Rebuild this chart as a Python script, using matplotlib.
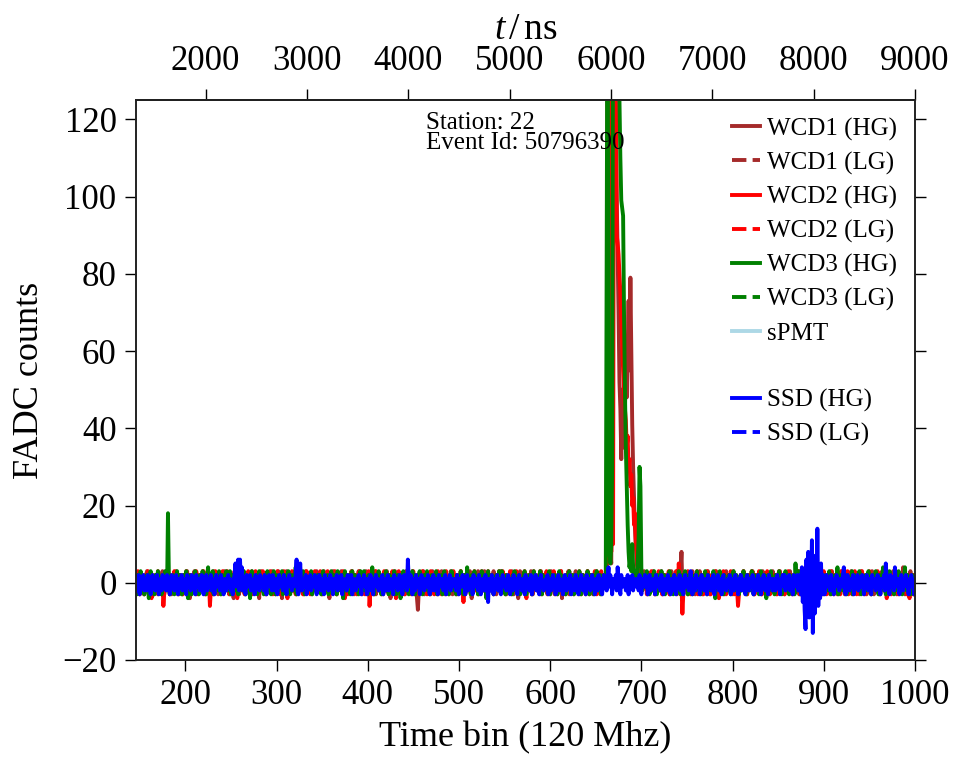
import numpy as np
import matplotlib
matplotlib.use("Agg")
import matplotlib.pyplot as plt
from matplotlib.lines import Line2D

plt.rcParams['font.family'] = ['Liberation Serif', 'DejaVu Serif']
plt.rcParams['mathtext.fontset'] = 'custom'
plt.rcParams['mathtext.rm'] = 'Liberation Serif'
plt.rcParams['mathtext.it'] = 'Liberation Serif:italic'

# first time bin shown and conversion of the top axis
first_bin = 146
ns_per_bin = 9

station = 22
event_id = 50796390

# baseline traces, one value per time bin, starting at first_bin (50 bins per row)
wcd1_hg_noise = """
1 -2 0 2 -3 -1 2 1 -2 -3  0 2 3 -1 -2 1 0 -3 2 1  -1 0 2 -2 -3 1 2 0 -1 3  -2 -3 1 0 2 -1 -2 2 1 -3  0 1 -2 2 3 -1 0 -3 1 2
-1 -3 0 2 1 -2 3 0 -1 -4  2 1 -2 0 3 -1 -3 1 2 0  -2 1 -1 3 0 -2 -3 2 1 -1  0 2 -3 -1 1 3 -2 0 2 -1  -3 1 0 -2 2 1 -1 3 -2 0
2 -1 -3 0 1 2 -2 -4 1 3  0 -1 2 -3 1 0 -2 2 3 -1  -3 0 1 -2 2 -1 0 3 -3 1  2 -2 -1 0 1 -4 2 3 -1 0  -2 1 2 -3 0 1 -1 2 -2 3
-1 0 2 -3 1 -2 3 0 -1 2  -4 1 0 -2 2 3 -1 -3 1 0  2 -1 -2 1 3 0 -3 2 -1 1  0 -2 2 -1 -3 1 3 0 -2 1  2 -1 0 -3 2 1 -2 0 3 -1
0 2 -2 1 -3 0 3 -1 2 -2  1 0 -4 2 1 -1 3 -2 0 1  -3 2 0 -1 1 3 -2 -1 2 0  -3 1 2 -1 0 -2 3 1 -1 -3  2 0 1 -2 3 -1 0 2 -3 1
-2 1 3 0 -1 2 -3 1 0 -2  2 -1 3 -3 0 1 -2 2 1 -1  0 -3 2 1 -2 3 0 -1 1 -4  2 0 -2 1 3 -1 -3 0 2 1  -1 2 -2 0 1 -3 3 -1 0 2
1 -2 0 3 -1 -3 2 0 -4 -7  -2 1 2 -1 0 3 -3 1 -2 2  0 -1 1 -3 2 3 -2 0 1 -1  2 -3 0 1 -2 3 -1 2 0 -3  1 2 -1 0 -2 3 1 -3 2 0
-1 2 1 -3 0 -2 3 1 -1 2  0 -3 1 2 -2 0 3 -1 -4 1  2 0 -2 1 -1 3 -3 0 2 1  -2 -1 3 0 1 -3 2 -1 0 2  -2 1 3 -1 0 -3 2 1 -2 0
3 -1 0 -2 2 1 -3 0 1 -1  2 -2 3 0 -3 1 -1 2 0 -4  1 3 -2 0 -1 2 1 -3 0 2  -1 1 -2 3 0 -3 2 1 -1 0  -2 2 1 -3 3 0 -1 2 -2 1
0 -3 2 1 -1 3 -2 0 1 -3  2 0 -1 2 -2 1 3 -4 0 1  -2 2 -1 0 3 -3 1 2 -1 0  -2 1 3 -1 0 2 -3 1 -2 0  2 -1 1 -3 0 3 -2 1 0 -1
2 -3 1 0 -2 3 -1 2 0 -3  1 2 -1 0 2 1 -2 0 3 -1  0 2 -3 1 -1 2 0 -2 3 1  -1 0 2 -3 1 0 -2 2 1 -1  3 0 -2 1 -3 2 0 -1 1 2
-2 0 1 -3 2 -1 0 3 -2 1  0 -3 2 1 -1 0 -2 3 1 -3  0 2 -1 1 -2 0 3 -3 1 2  -1 0 -2 2 1 -3 0 3 -1 2  -2 0 1 -3 2 -1 1 3 8 -2
-3 1 2 0 -1 -3 2 1 -2 0  3 -1 1 -3 0 2 -2 1 3 -1  0 -3 2 -1 1 0 -2 3 0 -3  1 2 -1 0 -2 1 3 -3 0 2  -1 1 -2 0 2 -3 1 3 -1 0
2 -2 0 1 -3 3 -1 0 2 -2  1 -3 0 2 1 -1 3 -2 0 1  -3 2 0 -1 1 -2 3 0 -3 1  2 -1 0 2 -2 1 -3 3 0 -1  1 2 -2 0 -3 1 2 -1 3 0
-1 2 -3 0 1 -2 3 1 -1 0  2 -3 1 0 -2 2 -1 3 0 -3  1 2 -1 0 -2 1 3 -3 0 2  -1 1 -2 0 4 -3 1 2 -1 0  -2 3 1 -3 0 2 -1 1 -2 0
3 -1 0 -3 2 1 -2 0 1 -1  2 -3 0 3 -2 1 0 -1 2 -3  1 0 -2 2 3 -1 0 -3 1 2  -2 0 1 -1 3 -3 2 0 -1 1  -2 2 0 -3 1 3 -1 0 2 -2
1 -3 0 2 -1 1 -2 3 0 -3  2 1 -1 0 -2 2 -3 1 3 0  -1 2 -2 0 1 -3 2 1 -1 0  3 -2 0 1 -3 2 -1 0 2 -2  1 4 -1 -3 0 2 1 -2 0 3
-1 0 2 -3 1 -2 0 2 -1 1
"""

wcd2_hg_noise = """
-2 1 3 0 -3 2 -1 0 1 -3  2 0 -2 3 1 -1 0 -4 2 1  -3 0 2 -1 3 -2 1 0 -3 2  -6 -2 1 3 0 -1 2 -3 1 0  2 -2 3 -1 0 1 -3 2 0 -1
1 -3 2 0 -1 3 -2 1 0 2  -3 1 -1 2 0 -2 3 1 -3 0  2 -1 1 -2 3 0 -3 2 1 -1  0 -6 -2 2 1 -3 0 3 -1 2  -2 0 1 -3 2 3 -1 0 -2 1
3 -1 0 -3 2 1 -2 0 3 -1  1 -4 2 0 -2 1 3 -1 0 -3  2 1 -2 3 0 -1 -3 2 1 0  -2 3 -1 1 -3 0 2 -2 1 3  0 -1 -3 2 1 0 -2 3 -1 0
-3 2 1 -1 0 3 -2 1 -3 0  2 -1 3 0 -2 1 -4 2 0 1  -1 3 -2 0 1 -3 2 -1 0 3  1 -2 0 -3 2 1 -1 3 0 -2  1 -3 2 0 -1 1 3 -2 0 2
0 -2 3 1 -3 0 2 -1 1 -2  3 0 -3 2 -1 1 0 -2 3 -1  -3 1 2 0 -2 1 -1 3 0 -4  2 1 -3 0 2 -1 -2 3 1 0  -1 2 -3 0 1 3 -2 -1 2 0
1 -3 2 0 -1 3 -6 -2 1 2  0 -3 1 3 -1 0 2 -2 1 -3  0 2 3 -1 -2 1 0 -3 2 1  -1 3 0 -2 1 -4 2 0 3 -1  -2 1 0 2 -3 1 -1 3 0 -2
2 0 -3 1 3 -1 -2 0 2 1  -3 -1 2 0 3 -2 1 -1 0 -3  2 1 -2 3 0 -1 1 -3 2 0  -2 3 1 -1 0 -3 2 1 -2 0  3 -1 1 -3 0 2 -2 1 3 -1
0 -3 2 1 -2 0 3 -1 1 -5  2 0 -2 3 1 -1 0 -3 2 1  -1 3 0 -2 1 -3 2 0 -1 3  1 -2 0 2 -3 1 3 -1 0 -2  2 1 -3 0 -1 2 1 -2 3 0
-2 1 3 -1 0 -3 2 1 -2 0  3 -1 -3 2 0 1 -2 3 -1 0  2 -3 1 0 -2 2 3 -1 -4 1  0 2 -2 1 -3 0 3 -1 2 0  -2 1 -1 3 0 -3 2 1 -1 0
3 -2 0 1 -3 2 -1 0 3 1  -2 0 -3 2 1 -1 3 0 -2 1  -1 -3 2 0 1 3 -2 -1 0 2  -3 1 2 -1 0 -2 3 1 -3 0  2 -1 1 0 -2 3 -1 -3 2 1
0 -2 1 3 -1 -3 2 0 1 -2  3 -1 0 2 -3 1 0 2 -1 3  -2 0 1 -3 2 1 -1 0 3 -2  1 0 -3 2 1 -1 0 2 -2 1  0 3 -1 -2 1 0 2 -3 1 0
-1 2 -3 0 1 -2 3 1 -1 0  -3 2 0 1 -2 3 -1 0 2 -3  1 -1 0 3 -2 1 2 -3 0 -1  2 1 -2 0 3 -3 1 0 -1 2  -2 1 3 0 -1 5 2 -3 -1 -8
-3 1 2 -1 0 3 -2 1 -3 0  2 -1 1 0 -2 3 -3 2 1 0  -1 2 -3 1 0 -2 3 -1 2 0  -3 1 -1 2 0 3 -2 -1 1 -4  2 0 -2 1 3 -1 0 -3 2 1
0 -2 3 1 -1 0 -3 2 1 -2  -6 -3 0 2 1 -1 3 -2 0 1  -3 2 -1 0 1 3 -2 1 -3 0  2 -1 0 3 -2 1 -3 0 2 1  -1 -2 3 0 1 -3 2 -1 0 2
-2 1 0 -3 2 3 -1 0 1 -2  2 -3 0 1 -1 3 -2 0 2 1  -3 0 -1 2 1 -2 3 0 -3 1  2 -1 0 -2 3 1 -3 2 0 -1  1 -2 3 0 -3 2 1 -1 0 -4
2 0 -2 1 3 -1 0 -3 2 1  -1 -2 3 0 1 -3 2 -1 0 2  -2 1 -3 3 0 1 -1 2 -2 0  3 -3 1 0 -1 2 -2 1 3 0  -3 2 -1 1 0 -2 3 -1 0 -3
1 2 -2 0 3 -1 -3 1 0 2  -1 -2 1 3 0 -3 2 1 -1 0  -2 3 1 -4 0 2 -1 1 -3 2  0 -1 3 -2 1 0 -3 2 1 -1  0 2 -2 3 -1 -3 1 0 -4 2
-1 0 -3 2 1 -2 0 3 -1 1
"""

wcd3_hg_noise = """
2 -3 1 0 -2 3 -1 2 0 -3  1 -1 2 0 -4 1 3 -2 0 1  -3 2 -1 0 3 1 -2 0 -3 2  1 -1 3 0 -2 18 2 -3 1 0  -1 2 -3 1 0 3 -2 -1 2 0
-3 1 2 -1 0 3 -2 -4 1 2  0 -3 1 -1 2 3 -2 0 1 -3  2 0 -1 3 -2 1 0 -3 2 4  -1 0 -2 1 3 -3 0 2 -1 1  -2 3 0 -3 1 2 -1 0 -2 3
1 -2 0 3 -3 1 2 -1 0 -2  3 1 -3 0 2 -1 1 -2 3 0  -3 2 1 -1 0 -4 2 3 -2 0  1 -1 2 -3 0 3 1 -2 0 1  -3 2 -1 0 3 -2 1 0 -3 2
0 3 -1 -3 2 1 -2 0 1 -1  3 -3 0 2 1 -2 -1 3 0 -3  1 2 -2 0 -1 4 -3 1 2 0  -2 1 -1 3 0 -3 2 1 -2 0  1 -1 3 -3 2 0 -2 1 -1 2
-1 2 0 -3 1 3 -2 1 0 -1  2 -3 1 0 3 -2 -1 2 0 1  -3 3 -2 0 1 -1 2 -4 0 3  1 -2 0 -1 2 -3 1 3 0 -2  2 -1 0 1 -3 2 3 -1 -2 0
3 -2 1 0 -3 2 -1 1 0 4  -2 -3 1 2 0 -1 3 -2 1 -3  0 2 -1 1 3 -2 0 -3 2 1  -1 0 -2 3 1 -3 0 2 -1 1  -4 2 0 3 -1 -2 1 0 2 -3
1 0 -2 3 -1 2 -3 0 1 -1  2 3 -2 0 -3 1 2 -1 0 3  -2 1 -3 0 2 -1 1 0 -2 3  -3 2 1 0 -1 2 -3 1 3 -2  0 1 -1 -3 2 0 3 -2 1 -1
0 -3 2 1 -2 0 3 -1 1 -3  2 0 -2 4 1 -1 0 -3 2 1  -2 3 0 -1 1 -3 2 0 -1 3  1 -2 0 2 -4 1 3 -1 0 -2  2 1 -3 0 -1 2 1 -2 3 0
-2 3 1 -1 0 -3 2 1 -2 0  1 -1 -3 2 0 3 -2 1 -1 0  2 -3 1 0 -2 2 3 -1 -3 1  0 2 -2 1 -3 0 3 -1 2 0  -2 1 -1 3 0 -3 2 1 -1 0
1 -2 0 3 -3 2 -1 0 1 2  -2 0 -3 1 3 -1 2 0 -2 1  -1 -3 2 0 1 3 -2 -1 0 2  -3 1 2 -1 0 -2 3 1 -3 0  2 -1 1 0 -2 3 -1 -3 2 1
0 2 -3 1 -1 3 0 -2 1 2  -3 0 1 2 -1 3 -2 0 1 -3  2 0 -1 1 3 -2 0 -3 2 1  -1 0 2 -2 1 -3 0 2 -1 1  3 -2 0 1 -3 2 -1 0 2 -3
1 -2 0 3 -1 -3 2 1 0 -2  3 -1 1 -3 0 2 -2 1 3 0  -1 -3 2 0 1 -2 3 -1 0 2  -3 1 0 -1 2 3 -2 0 1 -3  2 -1 0 1 -2 3 0 -3 1 2
-2 0 3 -1 1 -3 2 0 -1 2  -3 1 0 2 -2 3 -1 1 0 -3  2 -2 1 0 3 -1 -3 2 1 0  -2 1 -1 3 0 -4 2 1 -1 0  3 -2 0 1 -3 2 -1 1 0 -2
2 -1 -3 0 1 3 -2 0 2 -1  1 -3 0 2 -2 1 3 -1 0 -3  2 0 1 -2 -1 3 0 -3 2 1  -1 0 2 -3 1 3 -2 0 -1 2  0 -4 1 2 -1 0 3 -2 1 0
-3 2 1 -1 0 3 -2 1 -3 0  2 -1 3 0 -2 1 -3 2 0 1  -1 2 -3 5 0 -2 1 3 -1 -3  2 0 -2 1 3 -1 0 -3 2 1  -1 2 0 -3 1 3 -2 0 1 -1
0 3 -2 1 -3 0 2 -1 1 -2  3 0 -3 2 1 -1 0 2 -2 4  -3 1 0 2 -1 -2 3 0 1 -3  2 -1 0 1 -2 3 -3 0 2 1  -1 0 -2 3 1 -3 2 0 -1 1
2 -2 0 3 -1 1 -3 0 2 -1  1 3 -2 0 -3 2 1 -1 0 4  -2 1 -3 0 2 -1 3 0 -2 1  -1 -3 2 0 1 -2 3 -1 0 2  -3 1 0 4 -1 -2 2 0 1 -3
0 2 -1 -3 1 0 2 -2 1 0
"""

ssd_hg_noise = """
-2 1 -1 2 -3 0 1 -1 2 -2  0 1 -2 2 -1 0 -3 1 2 -1  0 -2 1 2 -1 -3 0 1 -2 2  1 -1 0 -2 2 -1 1 -3 0 2  -1 1 -2 0 2 -1 -3 1 0 -1
2 -2 0 1 -1 -3 2 0 -1 1  -2 2 0 -1 1 -3 2 -1 0 1  -2 0 2 -1 -3 1 0 2 -2 1  -1 0 2 -2 1 -1 -3 0 2 -1  1 0 -2 2 -1 1 -3 0 1 -2
0 2 -1 1 -2 0 -3 1 2 5  -1 2 6 -2 6 0 4 -2 1 -1  -3 2 0 -1 1 2 -2 0 -1 1  -3 2 0 -1 1 -2 2 -1 0 1  -2 2 -1 -3 1 0 2 -1 0 -2
2 -1 -2 1 0 -3 1 2 -1 0  1 -2 2 0 -1 -3 1 0 2 -1  0 -2 1 -1 0 2 6 -2 -3 1  5 0 -2 1 -1 0 2 -3 0 1  -1 2 -2 0 1 -1 2 0 -3 1
-1 2 0 -2 1 0 -3 2 -1 0  1 -2 0 2 -1 1 -3 1 0 -1  2 -2 0 1 -1 2 -3 1 0 -1  1 -2 2 0 -1 1 2 -3 0 1  -1 -2 1 0 2 -1 0 -3 1 0
2 -1 0 -3 1 0 -2 2 0 -1  -3 1 0 2 -1 1 -2 0 -1 1  2 -3 0 1 -2 0 2 -2 1 -1  0 1 -3 2 0 -1 1 -2 0 2  -1 0 -3 1 2 -1 0 -2 6 1
-1 2 0 -3 1 0 -2 2 -1 0  1 -3 0 2 -1 1 -2 1 0 -1  2 0 -3 1 -2 0 2 -2 0 1  -1 -3 2 0 -1 1 0 -2 1 2  -3 0 1 -1 2 -2 0 1 -1 0
1 -2 2 0 -3 1 0 -1 2 -1  0 -3 1 2 -2 0 -1 1 0 -3  2 0 -1 1 0 -2 2 -1 -3 0  1 0 -2 2 0 -1 -5 1 0 -2  2 0 -3 1 -1 0 2 -2 1 0
-3 0 2 -1 1 0 -2 0 2 -1  -3 1 0 -2 2 0 -1 1 -3 0  2 -1 0 -2 1 0 -3 2 -1 0  1 -2 0 2 -3 0 1 -1 2 -2  0 1 -3 1 2 -1 0 -2 0 1
-1 2 -3 0 1 -2 0 2 -1 0  -3 1 0 2 -2 1 -1 0 -3 1  2 0 -2 1 -1 0 2 -3 1 0  -1 -2 2 0 1 -3 0 -1 2 0  -2 1 0 -3 2 -1 0 1 -2 0
2 -1 0 -3 1 0 -2 2 -1 0  1 -3 0 2 -1 0 -2 1 4 -1  2 0 -3 1 -1 0 2 -2 4 1  -1 -3 2 0 -1 0 1 -2 0 2  -3 0 1 -1 2 -2 1 0 -1 1
0 -2 2 0 -3 1 0 -1 2 -1  0 -3 1 2 -2 0 -1 1 0 -3  2 1 -1 0 1 -2 2 -1 -3 0  1 0 -2 2 0 -1 -3 1 0 -2  2 0 -3 1 -1 0 2 -2 1 0
-3 0 2 -1 1 0 -2 0 3 -1  -3 1 0 -2 2 0 -1 1 -3 0  2 -1 0 -2 1 0 -3 2 -1 0  1 -2 0 2 -3 0 1 -1 2 -2  0 1 -3 1 2 -1 0 -2 0 1
-1 2 -3 0 1 -2 0 2 -1 0  -3 1 0 2 -2 1 -1 0 -3 1  2 0 -2 1 -1 0 2 -3 1 0  -1 -2 2 0 1 -3 0 -1 2 0  -2 1 0 -3 2 -1 0 1 -2 0
1 -2 0 2 -1 0 -3 1 0 2  -1 2 -2 -1 1 0 2 -2 0 1  -3 2 0 -1 0 2 -2 -1 1 0  -3 2 0 -1 1 0 -2 2 -1 0  -1 1 0 -3 2 0 -2 1 0 -1
2 -1 -2 1 0 -3 0 2 -1 1  0 -2 2 0 -1 -3 1 0 2 -1  0 -2 1 0 -1 2 4 -2 -3 0  2 0 -2 1 0 -1 2 -3 0 1  -1 2 -2 0 1 -1 2 0 -3 1
-1 2 0 -2 1 0 -3 2 -1 0  1 -2 0 2 -1 1 -3 1 0 -1  2 -2 5 1 -1 0 -3 2 0 -1  1 -2 4 0 -1 1 0 -3 1 2  -1 -2 1 0 2 -1 0 -3 1 0
2 -1 0 -3 1 0 -2 2 0 -1
"""

# the muon/shower pulse, bins 660..705
pulse_start = 660
wcd1_hg_pulse = [1, 0, 3, 140, 20, 10, 8, 5, 60, 140, 150, 135, 120, 100, 85, 70,
                 52, 45, 32, 50, 40, 35, 45, 55, 48, 60, 73, 55, 79, 60, 41, 30,
                 22, 14, 9, 5, 3, 1, -1, 2, 0, -2, 1, 3, -1, 0]
wcd2_hg_pulse = [0, 2, 3, 10, 160, 150, 12, 8, 14, 10, 150, 170, 130, 90, 88, 85,
                 80, 75, 68, 62, 55, 50, 45, 42, 35, 38, 30, 32, 25, 28, 20, 22,
                 15, 18, 10, 8, 4, 2, -1, 0, 1, -2, 2, 0, -1, 1]
wcd3_hg_pulse = [1, 2, 87, 170, 40, 8, 5, 10, 30, 160, 180, 175, 165, 150, 140, 130,
                 125, 110, 99, 97, 95, 70, 50, 35, 25, 15, 8, 4, 6, 3, 10, 4,
                 2, 0, 3, 1, 5, 12, 30, 25, 4, -2, 1, 2, -1, 0]

# SSD oscillation around bin 890
ssd_burst_start = 874
ssd_hg_burst = [2, -3, 4, -5, 3, -7, -12, 6, -4, 8, -9, 4, -6, 11, -13, 7, -8, 5,
                -5, 14, -6, 3, -4, 5, -3, 2, -2]


def build_trace(noise, start, values):
    trace = np.array(noise.split(), dtype=float)
    i = start - first_bin
    trace[i:i + len(values)] = values
    return trace


traces = [
    ('WCD1 (HG)', build_trace(wcd1_hg_noise, pulse_start, wcd1_hg_pulse), 'brown'),
    ('WCD2 (HG)', build_trace(wcd2_hg_noise, pulse_start, wcd2_hg_pulse), 'red'),
    ('WCD3 (HG)', build_trace(wcd3_hg_noise, pulse_start, wcd3_hg_pulse), 'green'),
    ('SSD (HG)', build_trace(ssd_hg_noise, ssd_burst_start, ssd_hg_burst), 'blue'),
]

fig = plt.figure(figsize=(9.54, 7.58), dpi=100)
ax = fig.add_axes([0.1426, 0.1293, 0.8165, 0.7388])

lw = 2.8
for label, y, color in traces:
    x = first_bin + np.arange(len(y))
    ax.plot(x, y, color=color, lw=lw)

ax.set_xlim(first_bin, 1000)
ax.set_ylim(-20, 125)
ax.set_xticks(range(200, 1001, 100))
ax.set_yticks(range(-20, 121, 20))
ax.tick_params(direction='out', length=8, width=1, labelsize=25, pad=6,
               right=True, top=False)
for sp in ax.spines.values():
    sp.set_linewidth(1.4)
    sp.set_color('#222222')

ax.set_xlabel('Time bin (120 Mhz)', fontsize=26, labelpad=6)
ax.set_ylabel('FADC counts', fontsize=26, labelpad=12)

secax = ax.secondary_xaxis('top', functions=(lambda b: b * ns_per_bin,
                                             lambda t: t / ns_per_bin))
secax.set_xticks(range(2000, 9001, 1000))
secax.tick_params(direction='out', length=8, width=1, labelsize=25, pad=8)
secax.spines['top'].set_linewidth(1.4)
secax.set_xlabel(r'$t\,/\,\mathrm{ns}$', fontsize=27, labelpad=4)

ax.text(0.372, 0.978, f'Station: {station}\nEvent Id: {event_id}',
        transform=ax.transAxes, ha='left', va='top', fontsize=18,
        linespacing=0.85)

handles = [
    Line2D([], [], color='brown', lw=lw, label='WCD1 (HG)'),
    Line2D([], [], color='brown', lw=lw, ls='--', label='WCD1 (LG)'),
    Line2D([], [], color='red', lw=lw, label='WCD2 (HG)'),
    Line2D([], [], color='red', lw=lw, ls='--', label='WCD2 (LG)'),
    Line2D([], [], color='green', lw=lw, label='WCD3 (HG)'),
    Line2D([], [], color='green', lw=lw, ls='--', label='WCD3 (LG)'),
    Line2D([], [], color='lightblue', lw=lw, label='sPMT'),
    Line2D([], [], color='none', lw=lw, label=' '),
    Line2D([], [], color='blue', lw=lw, label='SSD (HG)'),
    Line2D([], [], color='blue', lw=lw, ls='--', label='SSD (LG)'),
]
ax.legend(handles=handles, loc='upper right', frameon=False, fontsize=18,
          handlelength=1.1, handletextpad=0.3, labelspacing=0.44,
          borderaxespad=0.3)

fig.savefig('out.png', dpi=100)
